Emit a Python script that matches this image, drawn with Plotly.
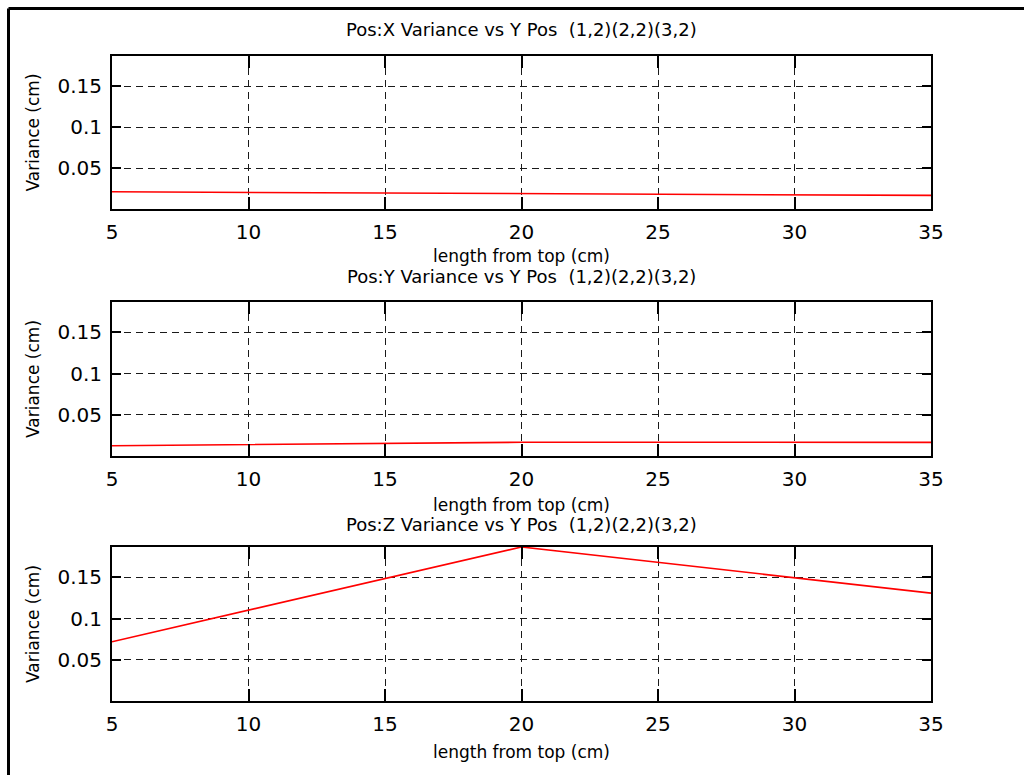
import plotly.graph_objects as go

# ---- data ----
length_cm = [5, 20, 35]
var_x = [0.0210, 0.0188, 0.0166]
var_y = [0.0125, 0.0167, 0.0166]
var_z = [0.072, 0.187, 0.131]
titles = [
    "Pos:X Variance vs Y Pos  (1,2)(2,2)(3,2)",
    "Pos:Y Variance vs Y Pos  (1,2)(2,2)(3,2)",
    "Pos:Z Variance vs Y Pos  (1,2)(2,2)(3,2)",
]
x_ticks = [5, 10, 15, 20, 25, 30, 35]
y_ticks = [0.05, 0.1, 0.15]
y_ticktext = ["0.05", "0.1", "0.15"]
x_label = "length from top (cm)"
y_label = "Variance (cm)"
y_max = 0.187

W, H = 1024, 775
FONT = "DejaVu Sans"

fig = go.Figure()

# pixel geometry
xl, xr = 112, 931
rows = [(56, 209), (302, 456), (547, 701)]
title_y = [30, 276, 524]
xlabel_y = [256, 505, 752]

series = [var_x, var_y, var_z]
for i, (top, bot) in enumerate(rows):
    n = "" if i == 0 else str(i + 1)
    fig.add_trace(go.Scatter(
        x=length_cm, y=series[i], mode="lines",
        line=dict(color="#ff0000", width=1.6),
        xaxis="x" + n, yaxis="y" + n, showlegend=False, hoverinfo="skip",
    ))
    xa = dict(
        domain=[xl / W, xr / W], anchor="y" + n, automargin=False,
        range=[5, 35], tickvals=x_ticks, ticks="inside", ticklen=12,
        tickcolor="black", tickwidth=1.5,
        showline=True, linecolor="black", linewidth=2, mirror="ticks",
        showgrid=True, gridcolor="#1a1a1a", gridwidth=1, griddash="7px,5px",
        zeroline=False, tickfont=dict(family=FONT, size=20, color="black"),
        ticklabelstandoff=4, fixedrange=True,
    )
    ya = dict(
        domain=[(H - bot) / H, (H - top) / H], anchor="x" + n, automargin=False,
        range=[0, y_max], tickvals=y_ticks, ticktext=y_ticktext,
        ticks="inside", ticklen=9, tickcolor="black", tickwidth=1.5,
        showline=True, linecolor="black", linewidth=2, mirror="ticks",
        showgrid=True, gridcolor="#1a1a1a", gridwidth=1, griddash="7px,5px",
        zeroline=False, tickfont=dict(family=FONT, size=20, color="black"),
        ticklabelstandoff=4, fixedrange=True,
    )
    fig.layout["xaxis" + n] = xa
    fig.layout["yaxis" + n] = ya

    fig.add_annotation(text=titles[i], xref="paper", yref="paper",
                       x=(xl + xr) / 2 / W, y=1 - title_y[i] / H,
                       xanchor="center", yanchor="middle", showarrow=False,
                       font=dict(family=FONT, size=18, color="black"))
    fig.add_annotation(text=x_label, xref="paper", yref="paper",
                       x=(xl + xr) / 2 / W, y=1 - xlabel_y[i] / H,
                       xanchor="center", yanchor="middle", showarrow=False,
                       font=dict(family=FONT, size=17, color="black"))
    fig.add_annotation(text=y_label, xref="paper", yref="paper",
                       x=33 / W, y=1 - (top + bot) / 2 / H, textangle=-90,
                       xanchor="center", yanchor="middle", showarrow=False,
                       font=dict(family=FONT, size=17, color="black"))

# outer frame: only the top and left edges fall inside the picture
fig.add_shape(type="line", xref="paper", yref="paper",
              x0=8.5 / W, x1=1, y0=1 - 8.5 / H, y1=1 - 8.5 / H,
              line=dict(color="black", width=3))
fig.add_shape(type="line", xref="paper", yref="paper",
              x0=8.5 / W, x1=8.5 / W, y0=0, y1=1 - 8.5 / H,
              line=dict(color="black", width=3))

fig.update_layout(
    width=W, height=H, margin=dict(l=0, r=0, t=0, b=0, pad=0),
    autosize=False,
    paper_bgcolor="white", plot_bgcolor="white",
)

fig.write_html("out.html", config={"displayModeBar": False})
